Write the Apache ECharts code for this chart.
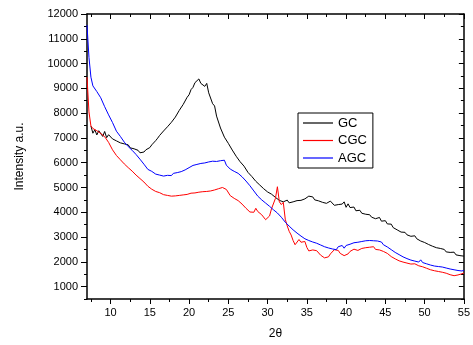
<!DOCTYPE html>
<html>
<head>
<meta charset="utf-8">
<script src="https://cdn.jsdelivr.net/npm/echarts@6/dist/echarts.min.js"></script>
<style>
  html, body { margin: 0; padding: 0; background: #fff; }
  #chart { width: 473px; height: 345px; }
</style>
</head>
<body>
<div id="chart"></div>
<script>
// Diffraction angle 2θ (degrees)
var twoTheta = [
  7.00, 7.25, 7.50, 7.75, 8.00, 8.25, 8.50, 8.75, 9.00, 9.25, 9.50, 9.75,
  10.00, 10.25, 10.50, 10.75, 11.00, 11.25, 11.50, 11.75, 12.00, 12.25, 12.50, 12.75,
  13.00, 13.25, 13.50, 13.75, 14.00, 14.25, 14.50, 14.75, 15.00, 15.25, 15.50, 15.75,
  16.00, 16.25, 16.50, 16.75, 17.00, 17.25, 17.50, 17.75, 18.00, 18.25, 18.50, 18.75,
  19.00, 19.25, 19.50, 19.75, 20.00, 20.25, 20.50, 20.75, 21.00, 21.25, 21.50, 21.75,
  22.00, 22.25, 22.50, 22.75, 23.00, 23.25, 23.50, 23.75, 24.00, 24.25, 24.50, 24.75,
  25.00, 25.25, 25.50, 25.75, 26.00, 26.25, 26.50, 26.75, 27.00, 27.25, 27.50, 27.75,
  28.00, 28.25, 28.50, 28.75, 29.00, 29.25, 29.50, 29.75, 30.00, 30.25, 30.50, 30.75,
  31.00, 31.25, 31.50, 31.75, 32.00, 32.25, 32.50, 32.75, 33.00, 33.25, 33.50, 33.75,
  34.00, 34.25, 34.50, 34.75, 35.00, 35.25, 35.50, 35.75, 36.00, 36.25, 36.50, 36.75,
  37.00, 37.25, 37.50, 37.75, 38.00, 38.25, 38.50, 38.75, 39.00, 39.25, 39.50, 39.75,
  40.00, 40.25, 40.50, 40.75, 41.00, 41.25, 41.50, 41.75, 42.00, 42.25, 42.50, 42.75,
  43.00, 43.25, 43.50, 43.75, 44.00, 44.25, 44.50, 44.75, 45.00, 45.25, 45.50, 45.75,
  46.00, 46.25, 46.50, 46.75, 47.00, 47.25, 47.50, 47.75, 48.00, 48.25, 48.50, 48.75,
  49.00, 49.25, 49.50, 49.75, 50.00, 50.25, 50.50, 50.75, 51.00, 51.25, 51.50, 51.75,
  52.00, 52.25, 52.50, 52.75, 53.00, 53.25, 53.50, 53.75, 54.00, 54.25, 54.50, 54.75,
  55.00
];

// GC intensity (a.u.)
var gc = [
  null, null, 7480, 7190, 7330, 7120, 7290, 7240, 7060, 7260, 7010, 7130,
  7080, 6960, 7000, 6880, 6930, 6800, 6850, 6760, 6680, 6720, 6600, 6620,
  6560, 6480, 6500, 6400, 6460, 6430, 6520, 6590, 6610, 6720, 6800, 6890,
  6990, 7100, 7080, 7280, 7270, 7450, 7500, 7630, 7690, 7840, 7890, 8110,
  8150, 8350, 8420, 8640, 8740, 8950, 9040, 9230, 9300, 9380, 9200, 9260,
  9080, 9200, 8820, 8790, 8380, 8290, 7880, 7800, 7400, 7390, 7030, 7060,
  6780, 6720, 6510, 6480, 6260, 6250, 6040, 5990, 5860, 5780, 5610, 5620,
  5440, 5430, 5250, 5260, 5100, 5090, 4950, 4990, 4820, 4820, 4730, 4690,
  4600, 4530, 4480, 4560, 4420, 4400, 4490, 4380, 4450, 4420, 4360, 4470,
  4410, 4480, 4460, 4540, 4600, 4650, 4580, 4620, 4500, 4530, 4460, 4480,
  4400, 4470, 4360, 4320, 4450, 4380, 4280, 4350, 4310, 4240, 4330, 4420,
  4200, 4340, 4190, 4130, 4210, 4060, 4110, 4080, 3960, 4030, 3920, 3890,
  3900, 3800, 3830, 3740, 3700, 3790, 3640, 3600, 3660, 3530, 3470, 3520,
  3380, 3420, 3290, 3330, 3200, 3250, 3190, 3090, 3140, 3030, 3010, 3050,
  2930, 2950, 2840, 2900, 2780, 2800, 2700, 2740, 2630, 2680, 2570, 2560,
  2540, 2470, 2500, 2400, 2440, 2380, 2340, 2390, 2280, 2310, 2250, 2290,
  2230
];

// CGC intensity (a.u.)
var cgc = [
  9450, 8050, 7480, 7380, 7460, 7290, 7370, 7180, 7260, 7050, 7010, 6820,
  6760, 6520, 6480, 6290, 6300, 6120, 6140, 5950, 6010, 5800, 5880, 5660,
  5720, 5500, 5580, 5360, 5440, 5220, 5280, 5050, 5090, 4930, 5000, 4840,
  4860, 4790, 4800, 4710, 4740, 4680, 4700, 4650, 4710, 4660, 4720, 4680,
  4740, 4700, 4770, 4720, 4800, 4770, 4830, 4780, 4850, 4810, 4860, 4830,
  4880, 4840, 4900, 4860, 4940, 4900, 4970, 4950, 5020, 5000, 5060, 4920,
  4890, 4670, 4710, 4560, 4600, 4470, 4470, 4330, 4340, 4160, 4160, 4010,
  4070, 4000, 4160, 4030, 4070, 3900, 3950, 3700, 3620, 3850, 4140, 4160,
  4560, 5030, 4420, 4310, 4400, 3720, 3450, 3230, 3080, 2860, 2690, 2760,
  2900, 2790, 2760, 2820, 2580, 2440, 2390, 2480, 2530, 2450, 2390, 2270,
  2230, 2160, 2180, 2200, 2320, 2370, 2490, 2470, 2460, 2340, 2320, 2250,
  2280, 2320, 2420, 2440, 2510, 2450, 2460, 2470, 2540, 2470, 2570, 2490,
  2590, 2510, 2610, 2500, 2580, 2480, 2490, 2420, 2430, 2340, 2310, 2210,
  2200, 2120, 2130, 2040, 2070, 1990, 2020, 1950, 1980, 1910, 1990, 1920,
  1920, 1840, 1870, 1800, 1830, 1740, 1750, 1680, 1710, 1640, 1670, 1610,
  1650, 1580, 1620, 1540, 1560, 1480, 1500, 1440, 1490, 1470, 1530, 1520,
  1550
];

// AGC intensity (a.u.)
var agc = [
  11550, 10250, 9450, 9100, 9080, 8870, 8830, 8620, 8610, 8260, 8200, 7930,
  7890, 7620, 7580, 7270, 7320, 7060, 7110, 6830, 6860, 6650, 6680, 6500,
  6520, 6330, 6350, 6140, 6170, 5940, 5980, 5730, 5760, 5650, 5620, 5540,
  5560, 5500, 5540, 5460, 5510, 5490, 5540, 5480, 5570, 5530, 5600, 5580,
  5640, 5620, 5710, 5770, 5800, 5840, 5890, 5850, 5930, 5900, 5970, 5940,
  5990, 5960, 6030, 5980, 6060, 6010, 6050, 6100, 6080, 6020, 6100, 5900,
  5920, 5740, 5790, 5650, 5700, 5570, 5580, 5430, 5410, 5260, 5270, 5070,
  5060, 4860, 4830, 4650, 4660, 4500, 4520, 4370, 4410, 4240, 4260, 4100,
  4120, 3970, 3980, 3800, 3780, 3600, 3610, 3440, 3450, 3290, 3300, 3160,
  3180, 3040, 3060, 2930, 2990, 2860, 2930, 2800, 2860, 2750, 2800, 2680,
  2740, 2610, 2690, 2560, 2630, 2520, 2600, 2490, 2610, 2540, 2660, 2550,
  2660, 2600, 2710, 2660, 2770, 2710, 2790, 2740, 2820, 2760, 2850, 2790,
  2860, 2800, 2850, 2790, 2840, 2770, 2800, 2690, 2730, 2600, 2620, 2490,
  2510, 2380, 2420, 2290, 2330, 2200, 2250, 2130, 2180, 2070, 2130, 2030,
  2090, 1990, 2080, 1970, 2030, 1920, 1970, 1870, 1930, 1830, 1900, 1810,
  1880, 1790, 1860, 1750, 1810, 1710, 1770, 1680, 1740, 1650, 1710, 1630,
  1660
];

// Tick positions
var xMajorTicks = [10, 15, 20, 25, 30, 35, 40, 45, 50, 55];
var xMinorTicks = [7.5, 12.5, 17.5, 22.5, 27.5, 32.5, 37.5, 42.5, 47.5, 52.5];
var yMajorTicks = [1000, 2000, 3000, 4000, 5000, 6000, 7000, 8000, 9000, 10000, 11000, 12000];
var yMinorTicks = [500, 1500, 2500, 3500, 4500, 5500, 6500, 7500, 8500, 9500, 10500, 11500];

function pairs(xs, ys) {
  var out = [];
  for (var i = 0; i < xs.length; i++) {
    if (ys[i] !== null) out.push([xs[i], ys[i]]);
  }
  return out;
}

var FONT = 'Liberation Sans, Arial, sans-serif';
var X_MIN = 7, X_MAX = 55, Y_MIN = 500, Y_MAX = 12000;

function plain(v) { return String(v); }

function xAxisDef(pos, ticks, len, inside, showLine, showLabel, extra) {
  var a = {
    type: 'value', position: pos, min: X_MIN, max: X_MAX,
    splitLine: { show: false },
    axisLine: { show: showLine, onZero: false, lineStyle: { color: '#000', width: 1.5 } },
    axisTick: { show: true, inside: inside, length: len, customValues: ticks,
                lineStyle: { color: '#000', width: 1 } },
    axisLabel: { show: showLabel, customValues: ticks, color: '#000', formatter: plain,
                 fontFamily: FONT, fontSize: 11, margin: 8 }
  };
  if (extra) for (var k in extra) a[k] = extra[k];
  return a;
}

function yAxisDef(pos, ticks, len, inside, showLine, showLabel, extra) {
  var a = {
    type: 'value', position: pos, min: Y_MIN, max: Y_MAX,
    splitLine: { show: false },
    axisLine: { show: showLine, onZero: false, lineStyle: { color: '#000', width: 1.5 } },
    axisTick: { show: true, inside: inside, length: len, customValues: ticks,
                lineStyle: { color: '#000', width: 1 } },
    axisLabel: { show: showLabel, customValues: ticks, color: '#000', formatter: plain,
                 fontFamily: FONT, fontSize: 11, margin: 9 }
  };
  if (extra) for (var k in extra) a[k] = extra[k];
  return a;
}

var chart = echarts.init(document.getElementById('chart'), null, { renderer: 'canvas' });

chart.setOption({
  animation: false,
  backgroundColor: '#fff',
  grid: { left: 87, right: 4, top: 14, bottom: 46, containLabel: false },
  xAxis: [
    xAxisDef('bottom', xMajorTicks, 5, false, true, true, {
      name: '2θ', nameLocation: 'middle', nameGap: 29,
      nameTextStyle: { color: '#000', fontFamily: FONT, fontSize: 12 }
    }),
    xAxisDef('bottom', xMinorTicks, 3, false, false, false),
    xAxisDef('top', xMajorTicks, 5, true, true, false),
    xAxisDef('top', xMinorTicks, 3, true, false, false)
  ],
  yAxis: [
    yAxisDef('left', yMajorTicks, 6, false, true, true, {
      name: 'Intensity a.u.', nameLocation: 'middle', nameGap: 61,
      nameTextStyle: { color: '#000', fontFamily: FONT, fontSize: 12 }
    }),
    yAxisDef('left', yMinorTicks, 3, false, false, false),
    yAxisDef('right', yMajorTicks, 5, true, true, false),
    yAxisDef('right', yMinorTicks, 3, true, false, false)
  ],
  legend: {
    orient: 'vertical',
    left: 298, top: 113,
    padding: [3, 6, 3, 5],
    icon: 'rect',
    itemWidth: 30, itemHeight: 1.2, itemGap: 3.5,
    borderColor: '#000', borderWidth: 1, borderRadius: 0,
    backgroundColor: '#fff',
    textStyle: { color: '#000', fontFamily: FONT, fontSize: 13, lineHeight: 14 },
    data: ['GC', 'CGC', 'AGC']
  },
  series: [
    { name: 'GC', type: 'line', xAxisIndex: 0, yAxisIndex: 0, data: pairs(twoTheta, gc),
      showSymbol: false, symbol: 'none', lineStyle: { color: '#000', width: 1 }, itemStyle: { color: '#000' } },
    { name: 'CGC', type: 'line', xAxisIndex: 0, yAxisIndex: 0, data: pairs(twoTheta, cgc),
      showSymbol: false, symbol: 'none', lineStyle: { color: '#ff0000', width: 1 }, itemStyle: { color: '#ff0000' } },
    { name: 'AGC', type: 'line', xAxisIndex: 0, yAxisIndex: 0, data: pairs(twoTheta, agc),
      showSymbol: false, symbol: 'none', lineStyle: { color: '#0000ff', width: 1 }, itemStyle: { color: '#0000ff' } }
  ]
});
</script>
</body>
</html>
